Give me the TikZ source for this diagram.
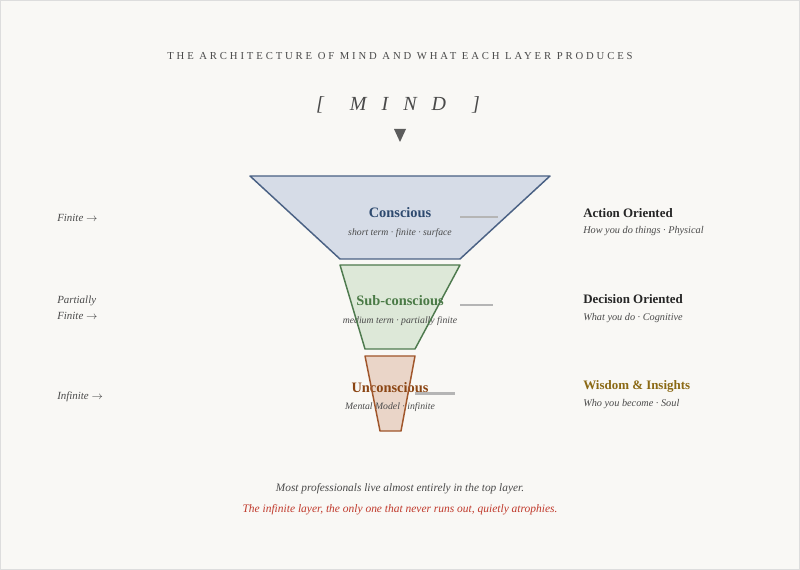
\documentclass[tikz,border=0pt]{standalone}
\usepackage{fontspec}
\usepackage{xcolor}
\usepackage{tikz}
\setmainfont{Liberation Serif}

\definecolor{paper}{HTML}{F9F8F5}
\definecolor{framegray}{HTML}{DDDDDD}
\definecolor{inkgray}{HTML}{4A4A4A}
\definecolor{tickgray}{HTML}{B5B5B5}
\definecolor{bluefill}{HTML}{D6DCE7}
\definecolor{blueedge}{HTML}{4A6184}
\definecolor{bluetext}{HTML}{2E4A6F}
\definecolor{greenfill}{HTML}{DDE8D8}
\definecolor{greenedge}{HTML}{4E7A4E}
\definecolor{greentext}{HTML}{4A7A46}
\definecolor{brownfill}{HTML}{EAD5C8}
\definecolor{brownedge}{HTML}{A0562B}
\definecolor{browntext}{HTML}{8B4513}
\definecolor{goldtext}{HTML}{8B6914}
\definecolor{alertred}{HTML}{C0392B}

\tikzset{
  layername/.style={font=\fontsize{10.8}{12}\selectfont\bfseries},
  layernote/.style={font=\fontsize{7.3}{8}\selectfont\itshape, text=inkgray},
  sidenote/.style={anchor=west, align=left, font=\fontsize{8.2}{12}\selectfont\itshape, text=inkgray},
  outhead/.style={anchor=west, font=\fontsize{9.7}{11}\selectfont\bfseries, text=black!85},
  outnote/.style={anchor=west, font=\fontsize{7.7}{9}\selectfont\itshape, text=inkgray},
  tickline/.style={draw=tickgray, line width=1.5pt},
  edge/.style={line width=1.1pt, line join=round}
}

\begin{document}
\begin{tikzpicture}[x=0.75pt, y=-0.75pt, inner sep=0pt]
  \fill[paper] (0,0) rectangle (800,570);
  \draw[framegray, line width=0.75pt] (0.5,0.5) rectangle (799.5,569.5);
  \useasboundingbox (0,0) rectangle (800,570);

  \node[text=inkgray, font=\fontsize{8}{10}\selectfont\addfontfeature{LetterSpace=27}] (title) at (400,56)
    {THE ARCHITECTURE OF MIND AND WHAT EACH LAYER PRODUCES};
  \node[text=inkgray, font=\fontsize{15}{17}\selectfont\itshape] (mind) at (398,105)
    {[\hspace{1.3em}M\hspace{0.75em}I\hspace{0.75em}N\hspace{0.75em}D\hspace{1.3em}]};
  \fill[inkgray!90] (394,129) -- (406,129) -- (400,142) -- cycle;

  \coordinate (c1) at (250,176); \coordinate (c2) at (550,176);
  \coordinate (c3) at (460,259); \coordinate (c4) at (340,259);
  \coordinate (s1) at (340,265); \coordinate (s2) at (460,265);
  \coordinate (s3) at (415,349); \coordinate (s4) at (365,349);
  \coordinate (u1) at (365,356); \coordinate (u2) at (415,356);
  \coordinate (u3) at (401,431); \coordinate (u4) at (380,431);

  \fill[bluefill] (c1) -- (c2) -- (c3) -- (c4) -- cycle;
  \fill[greenfill] (s1) -- (s2) -- (s3) -- (s4) -- cycle;
  \fill[brownfill] (u1) -- (u2) -- (u3) -- (u4) -- cycle;

  \node[layername, text=bluetext] (conscious) at (400,213) {Conscious};
  \node[layernote] (consciousnote) at (400,233) {short term · finite · surface};
  \node[layername, text=greentext] (subconscious) at (400,301) {Sub-conscious};
  \node[layernote] (subconsciousnote) at (400,321) {medium term · partially finite};
  \node[layername, text=browntext] (unconscious) at (390,388) {Unconscious};
  \node[layernote] (unconsciousnote) at (390,407) {Mental Model · infinite};

  \draw[edge, blueedge] (c1) -- (c2) -- (c3) -- (c4) -- cycle;
  \draw[edge, greenedge] (s1) -- (s2) -- (s3) -- (s4) -- cycle;
  \draw[edge, brownedge] (u1) -- (u2) -- (u3) -- (u4) -- cycle;

  \coordinate (t1a) at (460,217.5); \coordinate (t1b) at (498,217.5);
  \coordinate (t2a) at (460,305.5); \coordinate (t2b) at (493,305.5);
  \coordinate (t3a) at (415,393.5); \coordinate (t3b) at (455,393.5);
  \draw[tickline] (t1a) -- (t1b);
  \draw[tickline] (t2a) -- (t2b);
  \draw[tickline] (t3a) -- (t3b);

  \node[sidenote] (finite) at (57,218) {Finite $\rightarrow$};
  \node[sidenote] (partial) at (57,308) {Partially\\Finite $\rightarrow$};
  \node[sidenote] (infinite) at (57,397) {Infinite $\rightarrow$};

  \node[outhead] (action) at (583,213) {Action Oriented};
  \node[outnote] (actionnote) at (583,231) {How you do things · Physical};
  \node[outhead] (decision) at (583,299) {Decision Oriented};
  \node[outnote] (decisionnote) at (583,318) {What you do · Cognitive};
  \node[outhead, text=goldtext] (wisdom) at (583,386) {Wisdom \& Insights};
  \node[outnote] (wisdomnote) at (583,404) {Who you become · Soul};

  \node[font=\fontsize{8.5}{10}\selectfont\itshape, text=inkgray] (mostpros) at (400,489)
    {Most professionals live almost entirely in the top layer.};
  \node[font=\fontsize{8.6}{10}\selectfont\itshape, text=alertred] (atrophy) at (400,510)
    {The infinite layer, the only one that never runs out, quietly atrophies.};
\end{tikzpicture}
\end{document}
